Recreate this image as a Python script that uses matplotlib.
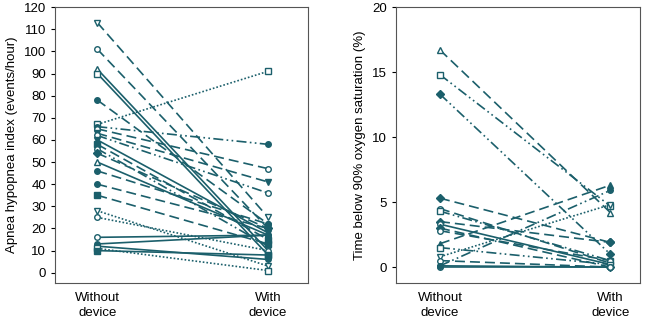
import matplotlib
matplotlib.use('Agg')
import matplotlib.pyplot as plt

plt.rcParams['font.family'] = ['Liberation Sans', 'DejaVu Sans']

TEAL = '#1b5f6b'
groups = ['Without\ndevice', 'With\ndevice']

# apnea hypopnea index, per patient: before, after
ahi_before = [113, 101, 92, 90, 78, 67, 66, 65, 63, 62, 60, 58, 56, 54,
              50, 46, 40, 35, 28, 25, 16, 13, 12, 11, 10]
ahi_after = [25, 20, 10, 8, 22, 91, 58, 47, 41, 36, 18, 15, 12, 20,
             17, 22, 20, 13, 3, 10, 17, 17, 6, 1, 8]
ahi_markers = ['v', 'o', '^', 's', 'o', 's', 'o', 'o', 'v', 'o', 'v', 's', 'o', 'D',
               '^', 'o', 'o', 's', 'v', 'o', 'o', 'o', 'o', 's', 's']
ahi_filled = [0, 0, 0, 0, 1, 0, 1, 0, 1, 0, 1, 1, 0, 1,
              0, 1, 1, 1, 0, 0, 0, 1, 1, 0, 1]
ahi_styles = ['--', '--', '-', '-', '--', ':', '-.', '--', '--', '-.', '-', '--', '-.', '--',
              '-', '--', '--', '--', ':', ':', '-', '-', '-', ':', '-']

# time below 90% saturation, per patient: before, after
sat_before = [16.7, 14.8, 13.3, 5.3, 4.5, 4.3, 3.5, 3.3, 3.0, 2.8, 1.8, 1.5,
              0.8, 0.5, 0.1, 0.0, 0.1]
sat_after = [4.2, 4.7, 1.0, 1.9, 0.3, 0.5, 1.9, 0.2, 0.0, 0.5, 6.3, 0.2,
             4.8, 0.0, 0.0, 0.0, 5.9]
sat_markers = ['^', 's', 'D', 'D', 'o', 's', 'D', 'o', 'D', 'o', '^', 's',
               'v', 'o', 'o', 'o', 'o']
sat_filled = [0, 0, 1, 1, 0, 0, 1, 0, 1, 0, 1, 0, 0, 0, 0, 0, 1]
sat_styles = ['--', '-.', '-.', '--', '--', '-.', '--', '-', '--', '--', '--', '-.',
              ':', '--', '-', '-', '-.']

# longer dashes than the matplotlib defaults
DASHES = {'--': (0, (6, 3)), '-.': (0, (6, 2, 1, 2, 1, 2)), ':': (0, (1, 1.2)), '-': '-'}


def draw_panel(ax, before, after, markers, filled, styles, ylabel, ylim, yticks):
    for b, a, m, f, ls in zip(before, after, markers, filled, styles):
        ax.plot([0, 1], [b, a], linestyle=DASHES[ls], color=TEAL, linewidth=1.2,
                marker=m, markersize=4, markeredgewidth=1.0,
                markerfacecolor=TEAL if f else 'white', markeredgecolor=TEAL)
    ax.set_ylim(*ylim)
    ax.set_yticks(yticks)
    ax.set_xticks([0, 1])
    ax.set_xticklabels(groups, fontsize=9.5, linespacing=1.3)
    ax.tick_params(axis='x', length=0, pad=7)
    ax.tick_params(axis='y', labelsize=9.5, length=3)
    ax.set_ylabel(ylabel, fontsize=9.5)
    for sp in ax.spines.values():
        sp.set_color('#555555')


fig = plt.figure(figsize=(6.5, 3.22), dpi=100)
ax1 = fig.add_axes([0.085, 0.122, 0.389, 0.856])
ax2 = fig.add_axes([0.609, 0.122, 0.376, 0.856])

draw_panel(ax1, ahi_before, ahi_after, ahi_markers, ahi_filled, ahi_styles,
           'Apnea hypopnea index (events/hour)', (-4.5, 120), range(0, 121, 10))
ax1.set_xlim(-0.246, 1.234)

draw_panel(ax2, sat_before, sat_after, sat_markers, sat_filled, sat_styles,
           'Time below 90% oxygen saturation (%)', (-1.2, 20), range(0, 21, 5))
ax2.set_xlim(-0.259, 1.176)

fig.savefig('out.png', dpi=100)
